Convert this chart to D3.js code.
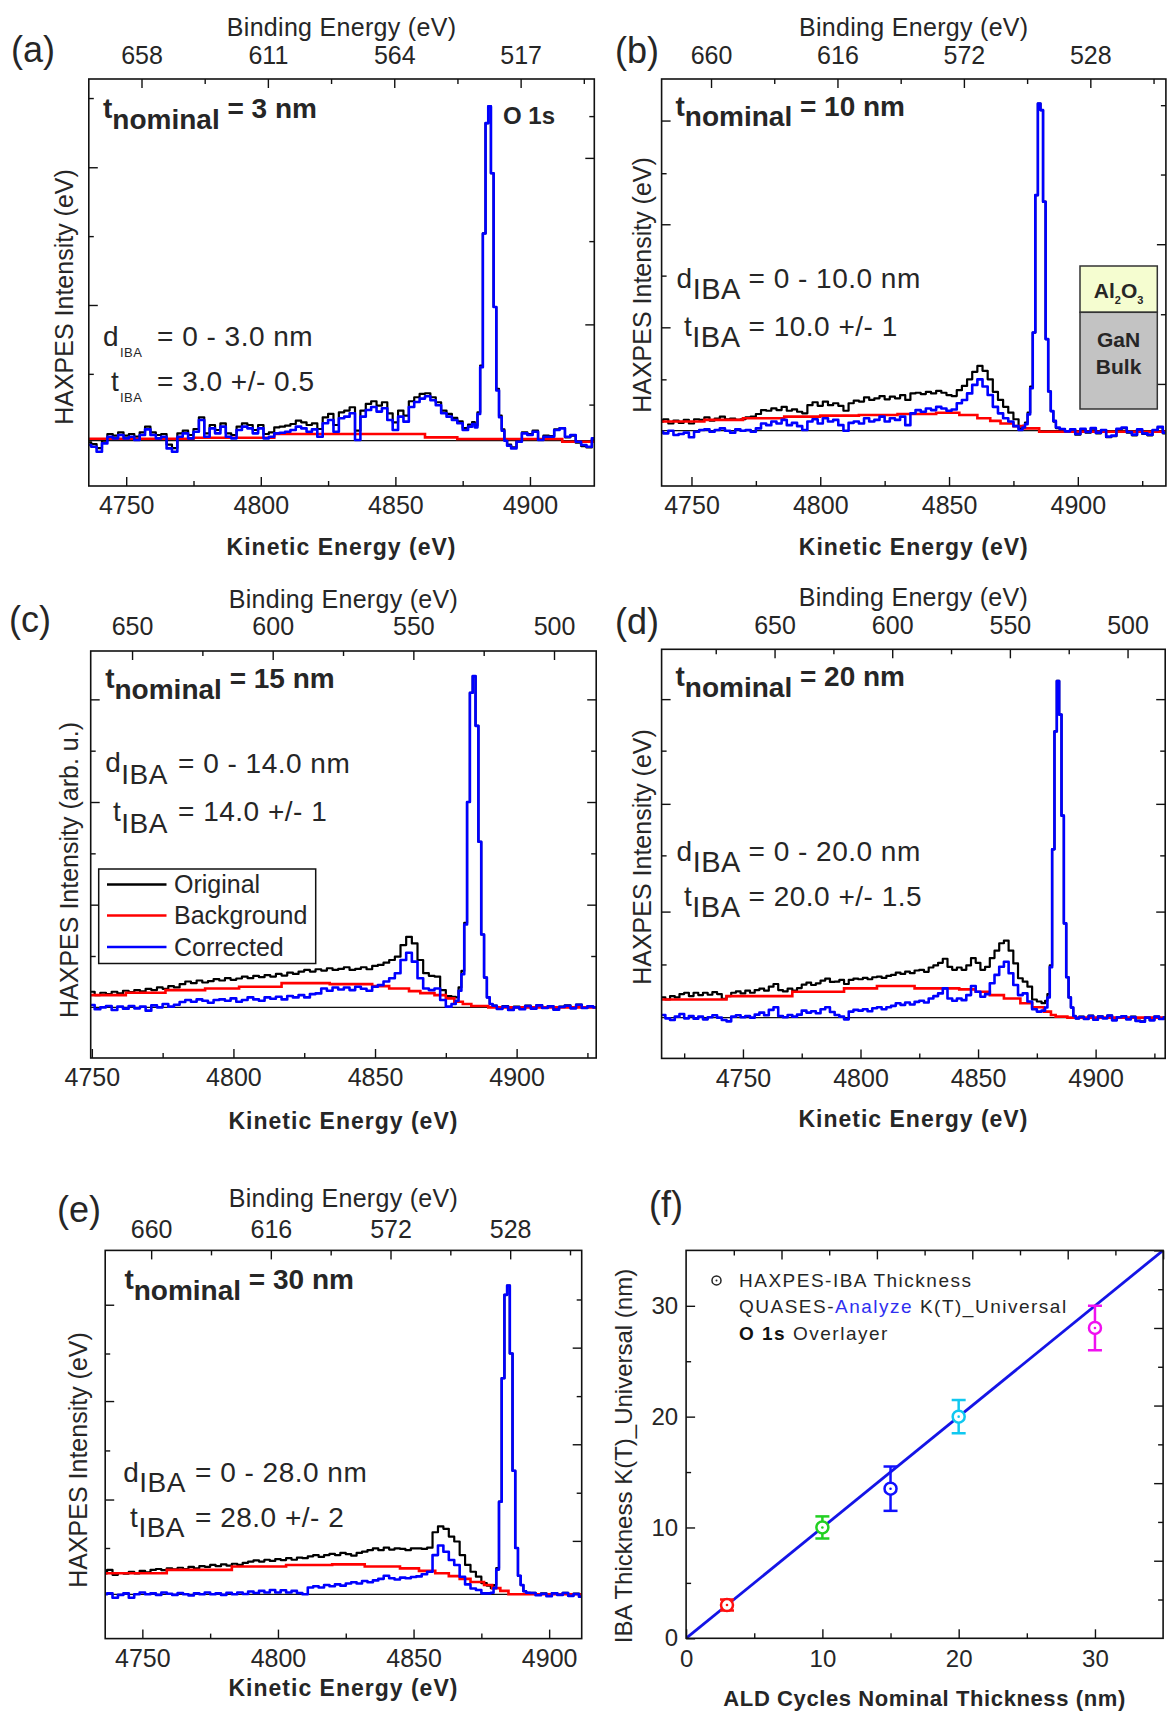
<!DOCTYPE html>
<html><head><meta charset="utf-8">
<script src="https://cdn.jsdelivr.net/npm/d3@7"></script>
<style>
body{margin:0;background:#fff;}
svg text{font-family:"Liberation Sans", Arial, sans-serif; fill:#262626;}
</style></head><body>
<svg id="c" width="1167" height="1711"></svg>
<script>
// ---------- shared kinetic-energy grid (eV) ----------
const KE_LOW = [4714,4716,4718,4720,4722,4724,4726,4728,4730,4732,
4734,4736,4738,4740,4742,4744,4746,4748,4750,4752,
4754,4756,4758,4760,4762,4764,4766,4768,4770,4772,
4774,4776,4778,4780,4782,4784,4786,4788,4790,4792,
4794,4796,4798,4800,4802,4804,4806,4808,4810,4812,
4814,4816,4818,4820,4822,4824,4826,4828,4830,4832,
4834,4836,4838,4840,4842,4844,4846,4848,4850,4852,
4854,4856,4858,4860,4862,4864,4866,4868,4870,4872,
4874,4876,4878];
const KE_PEAK = [4879,4880,4881,4882,4883,4884,4885,4886,4887,4888,4889,4890,4891,4892];
const KE_HIGH = [4894,4896,4898,4900,4902,4904,4906,4908,4910,4912,4914,4916,4918,4920,4922,4924,4926,4928,4930,4932,4934];

const keMajor = [4750, 4800, 4850, 4900];
const keMinor = [4725, 4775, 4825, 4875, 4925];

// ---------- panel (a) t = 3 nm ----------
const corrA_low = [-0.013,-0.018,-0.033,-0.008,0.012,0.007,0.017,0.007,0.012,0.002,
0.017,0.034,0.017,0.007,0.012,-0.023,-0.033,0.012,0.022,0.007,
0.027,0.062,0.012,0.037,0.022,0.042,0.012,0.007,0.032,0.042,
0.037,0.022,0.037,0.007,0.012,0.022,0.024,0.027,0.032,0.042,
0.037,0.027,0.034,0.012,0.052,0.062,0.027,0.067,0.072,0.082,
0.002,0.072,0.092,0.101,0.087,0.097,0.062,0.032,0.072,0.057,
0.101,0.116,0.126,0.133,0.121,0.106,0.082,0.072,0.062,0.052,
0.032,0.042];
const origA_low = [-0.005,-0.01,-0.022,0.0,0.02,0.015,0.025,0.015,0.02,0.012,
0.025,0.042,0.025,0.017,0.02,-0.012,-0.022,0.022,0.03,0.017,
0.035,0.07,0.022,0.047,0.032,0.052,0.022,0.017,0.042,0.052,
0.047,0.032,0.047,0.02,0.025,0.04,0.042,0.045,0.05,0.06,
0.055,0.047,0.052,0.035,0.07,0.08,0.047,0.085,0.09,0.1,
0.03,0.09,0.11,0.118,0.105,0.115,0.082,0.055,0.09,0.075,
0.118,0.13,0.14,0.142,0.13,0.115,0.09,0.08,0.068,0.058,
0.038,0.048];
const corrA_peak = [0.05,0.04,0.08,0.22,0.62,0.95,1.0,0.80,0.40,0.15,0.07,0.03,0.0,-0.015];
const origA_peak = [0.056,0.046,0.085,0.225,0.62,0.95,1.0,0.80,0.40,0.155,0.075,0.034,0.004,-0.012];
const corrA_high = [-0.023,-0.003,0.022,0.017,0.027,0.002,0.012,0.012,0.032,0.037,0.012,0.017,-0.003,-0.013,-0.018,0.007];
const origA_high = [-0.02,0.0,0.025,0.02,0.03,0.005,0.015,0.014,0.034,0.038,0.01,0.015,-0.006,-0.016,-0.02,0.004];
const bgA_ke = [4736, 4775, 4805, 4861, 4873, 4912, 4924];
const bgA    = [0.006, 0.009, 0.02, 0.01, 0.005, -0.003, -0.003];

// ---------- panel (b) t = 10 nm ----------
const corrB_low = [-0.003,-0.008,0,-0.013,-0.010,-0.006,-0.020,-0.003,0.002,0.004,
-0.003,0.002,0.007,0,-0.006,0.004,0,0.002,-0.003,0.007,
0.022,0.017,0.028,0.022,0.033,0.017,0.024,0.014,0.002,0.028,
0.035,0.022,0.038,0.028,0.033,0.017,0,0.024,0.028,0.022,
0.038,0.028,0.033,0.043,0.028,0.038,0.033,0.043,0.017,0.053,
0.063,0.058,0.068,0.063,0.073,0.068,0.061,0.065,0.084,0.094,
0.114,0.140,0.157,0.135,0.109,0.073,0.053,0.038,0.028,0.014,
0.002];
const origB_low = [0.028,0.035,0.022,0.031,0.024,0.033,0.022,0.035,0.033,0.041,
0.031,0.037,0.043,0.035,0.037,0.033,0.035,0.041,0.043,0.051,
0.063,0.061,0.068,0.063,0.073,0.061,0.065,0.058,0.053,0.078,
0.087,0.076,0.089,0.078,0.084,0.076,0.061,0.084,0.092,0.089,
0.102,0.094,0.099,0.106,0.096,0.104,0.099,0.109,0.094,0.114,
0.116,0.112,0.119,0.114,0.122,0.116,0.109,0.106,0.124,0.137,
0.157,0.180,0.198,0.183,0.157,0.119,0.094,0.073,0.055,0.035,
0.007];
const corrB_peak = [0.01,0.02,0.05,0.13,0.30,0.72,1.0,0.98,0.70,0.28,0.12,0.06,0.03,0.01];
const origB_peak = [0.015,0.025,0.055,0.135,0.30,0.72,1.0,0.98,0.70,0.28,0.12,0.06,0.028,0.008];
const corrB_high = [0.005,-0.002,0.004,-0.01,0.006,-0.004,0.008,-0.006,0.002,-0.018,-0.015,0.006,0.01,-0.004,-0.012,0.004,-0.008,-0.012,0.002,0.012,-0.006];
const origB_high = [0.003,-0.004,0.002,-0.012,0.004,-0.006,0.006,-0.008,0.0,-0.02,-0.017,0.004,0.008,-0.006,-0.014,0.002,-0.01,-0.014,0.0,0.01,-0.008];
const bgB_ke = [4738, 4755, 4770, 4786, 4800, 4815, 4830, 4845, 4854, 4861, 4866, 4870, 4875, 4879, 4885, 4934];
const bgB    = [0.028, 0.033, 0.038, 0.043, 0.046, 0.048, 0.051, 0.055, 0.048, 0.038, 0.03, 0.022, 0.014, 0.007, -0.003, -0.005];

// ---------- panel (c) t = 15 nm ----------
const corrC_low = [0.002,0.007,-0.006,0,0.004,-0.008,0.002,-0.004,0.004,-0.003,
0.002,-0.010,0.006,0,0.010,0.002,0.008,0.016,0.022,0.017,
0.024,0.020,0.014,0.022,0.024,0.020,0.027,0.017,0.022,0.030,
0.024,0.020,0.030,0.026,0.032,0.024,0.034,0.030,0.037,0.030,
0.040,0.042,0.057,0.050,0.060,0.054,0.060,0.052,0.062,0.056,
0.050,0.062,0.067,0.078,0.088,0.103,0.143,0.165,0.138,0.088,
0.057,0.052,0.057,0.022,0.002,0.010];
const origC_low = [0.042,0.047,0.037,0.044,0.040,0.047,0.042,0.050,0.046,0.052,
0.048,0.056,0.052,0.060,0.056,0.064,0.060,0.070,0.078,0.073,
0.081,0.075,0.079,0.085,0.081,0.088,0.083,0.087,0.093,0.088,
0.095,0.091,0.097,0.093,0.101,0.096,0.105,0.101,0.108,0.113,
0.108,0.115,0.111,0.118,0.113,0.116,0.121,0.113,0.116,0.121,
0.115,0.125,0.128,0.135,0.143,0.153,0.188,0.213,0.193,0.143,
0.103,0.095,0.093,0.052,0.034,0.032];
const corrC_peak = [0.02,0.05,0.10,0.25,0.62,0.95,1.0,0.85,0.50,0.22,0.09,0.03,0.01,0.005];
const origC_peak = [0.03,0.06,0.11,0.255,0.62,0.95,1.0,0.85,0.50,0.22,0.09,0.03,0.01,0.005];
const corrC_high = [-0.005,0.002,-0.008,0.0,-0.006,0.004,-0.004,0.006,-0.002,0.003,-0.007,0.001,0.005,-0.003,0.008,-0.002,0.003,0.0];
const origC_high = [-0.003,0.004,-0.006,0.002,-0.004,0.005,-0.002,0.007,0.0,0.004,-0.005,0.002,0.006,-0.002,0.008,-0.001,0.003,0.001];
const bgC_ke = [4748, 4762, 4776, 4790, 4802, 4817, 4834, 4849, 4855, 4862, 4866, 4871, 4875, 4878, 4881, 4884, 4890, 4928];
const bgC    = [0.037, 0.044, 0.052, 0.057, 0.062, 0.073, 0.07, 0.064, 0.057, 0.049, 0.043, 0.037, 0.027, 0.017, 0.01, 0.004, 0.0, 0.0];

// ---------- panel (d) t = 20 nm ----------
const corrD_low = [0.005,0.008,-0.002,-0.007,0.003,0.011,-0.002,0.005,-0.003,0.003,
-0.005,0.001,0.007,0,-0.007,-0.011,0.003,0.007,0.001,0.005,
0,0.009,0.015,0.007,0.023,0.031,0.005,0.001,0.008,0.003,
0.009,0.021,0.015,0.019,0.013,0.025,0.031,0.017,0.008,0.003,
-0.005,0.018,0.023,0.021,0.025,0.019,0.028,0.031,0.025,0.031,
0.035,0.043,0.038,0.045,0.039,0.047,0.050,0.045,0.057,0.064,
0.072,0.087,0.057,0.050,0.057,0.052,0.067,0.094,0.077,0.062,
0.070,0.102,0.127,0.151,0.166,0.132,0.097,0.067,0.072,0.048,
0.025,0.018,0.021];
const origD_low = [0.067,0.060,0.054,0.064,0.060,0.070,0.074,0.064,0.074,0.067,
0.074,0.068,0.076,0.070,0.056,0.064,0.074,0.078,0.072,0.080,
0.074,0.082,0.086,0.080,0.092,0.100,0.082,0.078,0.086,0.080,
0.088,0.098,0.104,0.097,0.102,0.110,0.116,0.106,0.107,0.112,
0.100,0.112,0.116,0.114,0.118,0.114,0.120,0.122,0.118,0.124,
0.127,0.134,0.130,0.137,0.132,0.140,0.142,0.136,0.149,0.155,
0.163,0.175,0.151,0.142,0.149,0.142,0.155,0.177,0.163,0.142,
0.151,0.177,0.199,0.221,0.229,0.199,0.161,0.117,0.107,0.092,
0.054,0.048,0.043];
const corrD_peak = [0.03,0.06,0.15,0.50,0.85,1.0,0.90,0.60,0.28,0.12,0.06,0.03,0.005,-0.002];
const origD_peak = [0.05,0.07,0.155,0.50,0.85,1.0,0.90,0.60,0.28,0.12,0.06,0.03,0.005,-0.002];
const corrD_high = [0.002,-0.004,0.005,-0.006,0.003,-0.002,0.006,-0.008,0.001,0.004,-0.005,0.002,-0.01,-0.012,0.0,-0.008,0.003,-0.004,0.001];
const origD_high = [0.003,-0.003,0.006,-0.005,0.004,-0.001,0.006,-0.007,0.002,0.005,-0.004,0.003,-0.009,-0.011,0.001,-0.007,0.003,-0.003,0.002];
const bgD_ke = [4714, 4743, 4771, 4793, 4807, 4823, 4842, 4849, 4855, 4861, 4868, 4873, 4878, 4881, 4883, 4888, 4930];
const bgD    = [0.054, 0.064, 0.077, 0.087, 0.094, 0.087, 0.084, 0.077, 0.067, 0.057, 0.043, 0.031, 0.018, 0.008, 0.003, 0.0, 0.0];

// ---------- panel (e) t = 30 nm ----------
const corrE_low = [0,0.003,-0.011,-0.002,0.003,-0.011,0,0.006,0,0.003,
-0.002,0.006,0.002,-0.002,0.004,0,-0.004,0.003,0,0.006,
0,0.003,-0.002,0.005,0,0.006,0.001,0.009,0.004,0.011,
0.006,0.014,0.006,0.013,0.006,0.011,0.004,0,0.022,0.026,
0.022,0.030,0.026,0.032,0.028,0.035,0.039,0.035,0.043,0.039,
0.045,0.050,0.060,0.052,0.048,0.054,0.052,0.056,0.058,0.065,
0.073,0.127,0.158,0.138,0.111,0.095,0.057,0.032,0.019,0.014,
0.003,0.003];
const origE_low = [0.068,0.079,0.063,0.069,0.067,0.073,0.068,0.076,0.071,0.079,
0.082,0.078,0.084,0.081,0.086,0.082,0.089,0.084,0.091,0.089,
0.095,0.091,0.097,0.093,0.099,0.095,0.102,0.106,0.110,0.106,
0.112,0.108,0.114,0.111,0.117,0.112,0.119,0.117,0.123,0.127,
0.121,0.127,0.131,0.127,0.134,0.130,0.125,0.134,0.138,0.143,
0.149,0.143,0.151,0.145,0.149,0.147,0.143,0.149,0.149,0.147,
0.151,0.201,0.220,0.212,0.187,0.171,0.127,0.095,0.073,0.057,
0.036,0.028];
const corrE_peak = [0.005,0.02,0.08,0.30,0.70,0.97,1.0,0.78,0.40,0.15,0.06,0.03,0.01,0.005];
const origE_peak = [0.02,0.03,0.085,0.30,0.70,0.97,1.0,0.78,0.40,0.15,0.06,0.03,0.01,0.005];
const corrE_high = [0.004,-0.003,0.002,-0.006,0.003,-0.002,0.004,-0.005,0.001,-0.008];
const origE_high = [0.005,-0.002,0.003,-0.005,0.004,-0.001,0.005,-0.004,0.002,-0.007];
const bgE_ke = [4736, 4759, 4783, 4803, 4820, 4832, 4845, 4852, 4858, 4863, 4867, 4871, 4876, 4879, 4882, 4885, 4912];
const bgE    = [0.068, 0.079, 0.090, 0.095, 0.097, 0.090, 0.084, 0.076, 0.068, 0.059, 0.050, 0.040, 0.030, 0.02, 0.011, 0.0, 0.0];

// ---------- binding energy tick labels ----------
const beTicksA = [658, 611, 564, 517], beMinorA = [634.5, 587.5, 540.5, 493.5];
const beTicksB = [660, 616, 572, 528], beMinorB = [638, 594, 550, 506];
const beTicksC = [650, 600, 550, 500], beMinorC = [625, 575, 525];
const beTicksD = [650, 600, 550, 500], beMinorD = [675, 625, 575, 525];
const beTicksE = [660, 616, 572, 528], beMinorE = [638, 594, 550, 506];

// ---------- panel (f) ----------
const nominalT = [3, 10, 15, 20, 30];
const ibaT     = [3, 10, 13.5, 20, 28];
const ibaErr   = [0.5, 1, 2, 1.5, 2];
const ptColors = ['#ff1010', '#22d022', '#1010ff', '#10c8f0', '#f010f0'];
const fitX = [0, 35], fitY = [0, 35];
const fMajor = [0, 10, 20, 30], fMinor = [5, 15, 25];
const fSideMajor = [7, 14, 21, 28, 35], fSideMinor = [3.5, 10.5, 17.5, 24.5, 31.5];

// ---------- helpers ----------
const svg = d3.select('#c');
function assemble(low, peak, high){
  const pts = [];
  const off = KE_LOW.length - low.length;
  low.forEach((v,i)=>pts.push([KE_LOW[off+i], v]));
  peak.forEach((v,i)=>pts.push([KE_PEAK[i], v]));
  high.forEach((v,i)=>pts.push([KE_HIGH[i], v]));
  return pts;
}
function zip(xs, ys){ return xs.map((x,i)=>[x, ys[i]]); }
function styleAxis(g, fs){
  g.select('.domain').remove();
  g.selectAll('.tick line').attr('stroke','#111').attr('stroke-width',1.4);
  g.selectAll('.tick text').style('font-size', fs+'px').attr('fill','#262626')
    .style('font-family','"Liberation Sans", Arial, sans-serif');
}
function addAnn(a){
  const t = svg.append('text').attr('x',a.x).attr('y',a.y)
    .style('font-size',(a.size||28)+'px').style('font-weight',a.bold?'bold':'normal')
    .style('letter-spacing', a.bold ? '0px' : '0.5px')
    .attr('fill', a.bold ? '#111' : '#333');
  a.parts.forEach(p=>{
    const s = t.append('tspan').text(p.t);
    if(p.x!=null) s.attr('x',p.x);
    if(p.dy) s.attr('dy',p.dy);
    if(p.size) s.style('font-size',p.size+'px');
  });
}

const panels = [
 {lab:'(a)', labX:11, labY:62, L:88.8, T:79, R:594.3, B:486, ke:[4736.1,4923.9], be:[677.6,489.6], y:[-0.1355,1.082],
  beMaj:beTicksA, beMin:beMinorA, topPad:14.6, kinDy:69, ylab:'HAXPES Intensity (eV)', ylabX:64, ylabY:297,
  lMaj:[0.406,0.818], lMin:[0.2,0.612,1.025], rMaj:[0.348,0.846], rMin:[0.108,0.597,0.971],
  orig:assemble(origA_low,origA_peak,origA_high), corr:assemble(corrA_low,corrA_peak,corrA_high), bg:zip(bgA_ke,bgA),
  ann:[
   {x:103,y:118,bold:true,parts:[{t:'t'},{t:'nominal',dy:11},{t:'\u00a0= 3 nm',dy:-11}]},
   {x:503,y:124,size:24,bold:true,parts:[{t:'O 1s'}]},
   {x:103,y:346,parts:[{t:'d'},{t:'IBA',dy:11,size:13,x:120},{t:'= 0 - 3.0 nm',dy:-11,x:157}]},
   {x:111,y:391,parts:[{t:'t'},{t:'IBA',dy:11,size:13,x:120},{t:'= 3.0 +/- 0.5',dy:-11,x:157}]}]},
 {lab:'(b)', labX:615, labY:63, L:661.6, T:79, R:1165.9, B:486, ke:[4738.4,4934.2], be:[677.2,501.7], y:[-0.169,1.075],
  beMaj:beTicksB, beMin:beMinorB, topPad:14.6, kinDy:69, ylab:'HAXPES Intensity (eV)', ylabX:642, ylabY:285,
  lMaj:[0.316,0.631,0.948], lMin:[0.157,0.474,0.787], rMaj:[0.143,0.57], rMin:[0.356,0.783,0.995],
  orig:assemble(origB_low,origB_peak,origB_high), corr:assemble(corrB_low,corrB_peak,corrB_high), bg:zip(bgB_ke,bgB),
  ann:[
   {x:675.5,y:116,bold:true,parts:[{t:'t'},{t:'nominal',dy:10},{t:'\u00a0= 10 nm',dy:-10}]},
   {x:676.6,y:287.5,parts:[{t:'d'},{t:'IBA',dy:11,size:29},{t:'= 0 - 10.0 nm',dy:-11,x:748.5}]},
   {x:684,y:335.7,parts:[{t:'t'},{t:'IBA',dy:11,size:29},{t:'= 10.0 +/- 1',dy:-11,x:748.5}]}]},
 {lab:'(c)', labX:9, labY:632, L:90.7, T:651, R:596.2, B:1058, ke:[4749.6,4928.1], be:[664.7,485.0], y:[-0.153,1.076],
  beMaj:beTicksC, beMin:beMinorC, topPad:15.6, kinDy:71, ylab:'HAXPES Intensity (arb. u.)', ylabX:69, ylabY:870,
  lMaj:[0.31,0.62,0.93], lMin:[0.155,0.465,0.775], rMaj:[0.31,0.62,0.93], rMin:[0.155,0.465,0.775],
  orig:assemble(origC_low,origC_peak,origC_high), corr:assemble(corrC_low,corrC_peak,corrC_high), bg:zip(bgC_ke,bgC),
  ann:[
   {x:105.2,y:688.2,bold:true,parts:[{t:'t'},{t:'nominal',dy:11},{t:'\u00a0= 15 nm',dy:-11}]},
   {x:105.2,y:772,parts:[{t:'d'},{t:'IBA',dy:12,size:28},{t:'= 0 - 14.0 nm',dy:-11,x:178}]},
   {x:112.9,y:821,parts:[{t:'t'},{t:'IBA',dy:11.5,size:28},{t:'= 14.0 +/- 1',dy:-11.5,x:178}]}]},
 {lab:'(d)', labX:615, labY:634, L:661.6, T:649.3, R:1165.2, B:1058.4, ke:[4715.4,4929.6], be:[698.0,484.0], y:[-0.121,1.094],
  beMaj:beTicksD, beMin:beMinorD, topPad:15.6, kinDy:69, ylab:'HAXPES Intensity (eV)', ylabX:642, ylabY:857,
  lMaj:[0.315,0.635,0.946], lMin:[0.158,0.482,0.793], rMaj:[0.315,0.635,0.946], rMin:[0.158,0.482,0.793],
  orig:assemble(origD_low,origD_peak,origD_high), corr:assemble(corrD_low,corrD_peak,corrD_high), bg:zip(bgD_ke,bgD),
  ann:[
   {x:675.5,y:686.4,bold:true,parts:[{t:'t'},{t:'nominal',dy:11},{t:'\u00a0= 20 nm',dy:-11}]},
   {x:676.6,y:861,parts:[{t:'d'},{t:'IBA',dy:11,size:29},{t:'= 0 - 20.0 nm',dy:-11,x:748.5}]},
   {x:684,y:906.4,parts:[{t:'t'},{t:'IBA',dy:11,size:29},{t:'= 20.0 +/- 1.5',dy:-11,x:748.5}]}]},
 {lab:'(e)', labX:57, labY:1222, L:105.2, T:1250.4, R:581.7, B:1638.6, ke:[4736.3,4912.0], be:[676.9,501.7], y:[-0.1435,1.114],
  beMaj:beTicksE, beMin:beMinorE, topPad:12.7, kinDy:57, ylab:'HAXPES Intensity (eV)', ylabX:78.5, ylabY:1460,
  lMaj:[0.307,0.626,0.938], lMin:[0.15,0.466,0.78], rMaj:[0.173,0.486,0.799], rMin:[0.329,0.642,0.955],
  orig:assemble(origE_low,origE_peak,origE_high), corr:assemble(corrE_low,corrE_peak,corrE_high), bg:zip(bgE_ke,bgE),
  ann:[
   {x:124.4,y:1289,bold:true,parts:[{t:'t'},{t:'nominal',dy:11},{t:'\u00a0= 30 nm',dy:-11}]},
   {x:123.2,y:1482.3,parts:[{t:'d'},{t:'IBA',dy:10,size:28},{t:'= 0 - 28.0 nm',dy:-10,x:195}]},
   {x:130.1,y:1527.1,parts:[{t:'t'},{t:'IBA',dy:10,size:28},{t:'= 28.0 +/- 2',dy:-10,x:195}]}]}
];

panels.forEach((p, idx)=>{
  const x = d3.scaleLinear(p.ke, [p.L, p.R]);
  const xb = d3.scaleLinear(p.be, [p.L, p.R]);
  const y = d3.scaleLinear(p.y, [p.B, p.T]);
  const inD = (s, v)=>{ const d=s.domain(); return v>=Math.min(d[0],d[1]) && v<=Math.max(d[0],d[1]); };
  const W = p.R - p.L, H = p.B - p.T;

  const cid = 'clip'+idx;
  svg.append('clipPath').attr('id',cid).append('rect').attr('x',p.L).attr('y',p.T).attr('width',W).attr('height',H);
  const plot = svg.append('g').attr('clip-path',`url(#${cid})`);
  plot.append('line').attr('x1',p.L).attr('x2',p.R).attr('y1',y(0)).attr('y2',y(0)).attr('stroke','#111').attr('stroke-width',1.2);
  const line = d3.line().x(d=>x(d[0])).y(d=>y(d[1])).curve(d3.curveStep);
  const bgLine = d3.line().x(d=>x(d[0])).y(d=>y(d[1])).curve(d3.curveStepAfter);
  plot.append('path').attr('d', line(p.orig)).attr('fill','none').attr('stroke','#000').attr('stroke-width',2.2).attr('stroke-linejoin','round');
  plot.append('path').attr('d', bgLine(p.bg)).attr('fill','none').attr('stroke','#ff0000').attr('stroke-width',2.6);
  plot.append('path').attr('d', line(p.corr)).attr('fill','none').attr('stroke','#0000ff').attr('stroke-width',2.6).attr('stroke-linejoin','round');

  const gb = svg.append('g').attr('transform',`translate(0,${p.B})`)
    .call(d3.axisBottom(x).tickValues(keMajor.filter(v=>inD(x,v))).tickFormat(d3.format('d')).tickSize(-9).tickPadding(10.6));
  styleAxis(gb, 25);
  const gbm = svg.append('g').attr('transform',`translate(0,${p.B})`)
    .call(d3.axisBottom(x).tickValues(keMinor.filter(v=>inD(x,v))).tickFormat('').tickSize(-5));
  styleAxis(gbm, 25);
  const gt = svg.append('g').attr('transform',`translate(0,${p.T})`)
    .call(d3.axisTop(xb).tickValues(p.beMaj).tickFormat(d3.format('d')).tickSize(-9).tickPadding(p.topPad));
  styleAxis(gt, 25);
  const gtm = svg.append('g').attr('transform',`translate(0,${p.T})`)
    .call(d3.axisTop(xb).tickValues(p.beMin.filter(v=>inD(xb,v))).tickFormat('').tickSize(-5));
  styleAxis(gtm, 25);
  [[d3.axisLeft, p.L, p.lMaj, -9],[d3.axisLeft, p.L, p.lMin, -5],[d3.axisRight, p.R, p.rMaj, -9],[d3.axisRight, p.R, p.rMin, -5]].forEach(a=>{
    const g = svg.append('g').attr('transform',`translate(${a[1]},0)`)
      .call(a[0](y).tickValues(a[2]).tickFormat('').tickSize(a[3]));
    styleAxis(g, 25);
  });
  svg.append('rect').attr('x',p.L).attr('y',p.T).attr('width',W).attr('height',H)
    .attr('fill','none').attr('stroke','#111').attr('stroke-width',1.6);

  const cx = (p.L + p.R)/2;
  svg.append('text').attr('x',cx).attr('y',p.T-43).attr('text-anchor','middle')
    .style('font-size','25px').style('letter-spacing','0.3px').text('Binding Energy (eV)');
  svg.append('text').attr('x',cx).attr('y',p.B+p.kinDy).attr('text-anchor','middle')
    .style('font-size','23px').style('font-weight','bold').style('letter-spacing','1px').attr('fill','#111').text('Kinetic Energy (eV)');
  svg.append('text').attr('transform',`translate(${p.ylabX},${p.ylabY}) rotate(-90)`).attr('text-anchor','middle')
    .attr('dy','0.35em').style('font-size','25px').text(p.ylab);
  svg.append('text').attr('x',p.labX).attr('y',p.labY).style('font-size','36px').attr('fill','#111').text(p.lab);
  p.ann.forEach(addAnn);
});

// ---------- legend in (c) ----------
const legNames = ['Original','Background','Corrected'];
const legColors = ['#000','#ff0000','#0000ff'];
const legY = [884.5, 915.5, 947];
svg.append('rect').attr('x',98.7).attr('y',869).attr('width',217).attr('height',94.5)
  .attr('fill','#fff').attr('stroke','#111').attr('stroke-width',1.5);
legNames.forEach((n,i)=>{
  svg.append('line').attr('x1',107).attr('x2',166.5).attr('y1',legY[i]).attr('y2',legY[i])
    .attr('stroke',legColors[i]).attr('stroke-width',2.6);
  svg.append('text').attr('x',174).attr('y',legY[i]).attr('dy','0.35em').style('font-size','25px').text(n);
});

// ---------- inset in (b) ----------
svg.append('rect').attr('x',1080).attr('y',266).attr('width',77.3).attr('height',46.3)
  .attr('fill','#f5fdd0').attr('stroke','#333').attr('stroke-width',1.5);
svg.append('rect').attr('x',1080).attr('y',312.3).attr('width',77.3).attr('height',96.7)
  .attr('fill','#c3c3c3').attr('stroke','#333').attr('stroke-width',1.5);
(function(){
  const t = svg.append('text').attr('x',1118.6).attr('y',298).attr('text-anchor','middle')
    .style('font-size','21px').style('font-weight','bold').attr('fill','#1a1a1a');
  t.append('tspan').text('Al');
  t.append('tspan').text('2').style('font-size','11px').attr('dy',6);
  t.append('tspan').text('O').attr('dy',-6);
  t.append('tspan').text('3').style('font-size','11px').attr('dy',6);
  svg.append('text').attr('x',1118.6).attr('y',347).attr('text-anchor','middle')
    .style('font-size','21px').style('font-weight','bold').attr('fill','#1a1a1a').text('GaN');
  svg.append('text').attr('x',1118.6).attr('y',374).attr('text-anchor','middle')
    .style('font-size','21px').style('font-weight','bold').attr('fill','#1a1a1a').text('Bulk');
})();

// ---------- panel (f) ----------
(function(){
  const L=686.1, R=1163.1, T=1250.4, B=1638.3;
  const fx = d3.scaleLinear([0,35],[L,R]);
  const fy = d3.scaleLinear([0,35],[B,T]);
  const clip = svg.append('clipPath').attr('id','clipf');
  clip.append('rect').attr('x',L).attr('y',T).attr('width',R-L).attr('height',B-T);
  const g = svg.append('g').attr('clip-path','url(#clipf)');
  g.append('path').attr('d', d3.line().x(d=>fx(d[0])).y(d=>fy(d[1]))(zip(fitX, fitY)))
    .attr('stroke','#1414e6').attr('stroke-width',2.8).attr('fill','none');
  nominalT.forEach((n,i)=>{
    const c = ptColors[i], X = fx(n);
    const y1 = fy(ibaT[i]-ibaErr[i]), y2 = fy(ibaT[i]+ibaErr[i]);
    g.append('line').attr('x1',X).attr('x2',X).attr('y1',y1).attr('y2',y2).attr('stroke',c).attr('stroke-width',2.5);
    [y1,y2].forEach(yy=>g.append('line').attr('x1',X-7).attr('x2',X+7).attr('y1',yy).attr('y2',yy).attr('stroke',c).attr('stroke-width',2.5));
    g.append('circle').attr('cx',X).attr('cy',fy(ibaT[i])).attr('r',6).attr('fill','#fff').attr('stroke',c).attr('stroke-width',2.5);
    g.append('circle').attr('cx',X).attr('cy',fy(ibaT[i])).attr('r',1.3).attr('fill',c);
  });
  const gb = svg.append('g').attr('transform',`translate(0,${B})`)
    .call(d3.axisBottom(fx).tickValues(fMajor).tickFormat(d3.format('d')).tickSize(-9).tickPadding(11.5));
  styleAxis(gb, 24);
  const gbm = svg.append('g').attr('transform',`translate(0,${B})`).call(d3.axisBottom(fx).tickValues(fMinor).tickFormat('').tickSize(-5));
  styleAxis(gbm, 24);
  const gl = svg.append('g').attr('transform',`translate(${L},0)`)
    .call(d3.axisLeft(fy).tickValues(fMajor).tickFormat(d3.format('d')).tickSize(-9).tickPadding(8));
  styleAxis(gl, 24);
  const glm = svg.append('g').attr('transform',`translate(${L},0)`).call(d3.axisLeft(fy).tickValues(fMinor).tickFormat('').tickSize(-5));
  styleAxis(glm, 24);
  [[d3.axisTop, 'translate(0,'+T+')', fx, fSideMajor, -9],[d3.axisTop, 'translate(0,'+T+')', fx, fSideMinor, -5],
   [d3.axisRight, 'translate('+R+',0)', fy, fSideMajor, -9],[d3.axisRight, 'translate('+R+',0)', fy, fSideMinor, -5]].forEach(a=>{
    const gg = svg.append('g').attr('transform',a[1]).call(a[0](a[2]).tickValues(a[3]).tickFormat('').tickSize(a[4]));
    styleAxis(gg, 24);
  });
  svg.append('rect').attr('x',L).attr('y',T).attr('width',R-L).attr('height',B-T)
    .attr('fill','none').attr('stroke','#111').attr('stroke-width',1.6);
  svg.append('text').attr('x',(L+R)/2).attr('y',1706).attr('text-anchor','middle')
    .style('font-size','22px').style('font-weight','bold').style('letter-spacing','0.6px').attr('fill','#111')
    .text('ALD Cycles Nominal Thickness (nm)');
  svg.append('text').attr('transform','translate(623.5,1456) rotate(-90)').attr('text-anchor','middle')
    .attr('dy','0.35em').style('font-size','24px').text('IBA Thickness K(T)_Universal (nm)');
  svg.append('text').attr('x',649).attr('y',1217).style('font-size','36px').attr('fill','#111').text('(f)');
  svg.append('circle').attr('cx',716.5).attr('cy',1280.4).attr('r',4.5).attr('fill','none').attr('stroke','#222').attr('stroke-width',1.5);
  svg.append('circle').attr('cx',716.5).attr('cy',1280.4).attr('r',1).attr('fill','#222');
  const lt = (y)=>svg.append('text').attr('x',739).attr('y',y).style('font-size','19px').style('letter-spacing','1.5px').attr('fill','#333');
  lt(1287).text('HAXPES-IBA Thickness');
  const l2 = lt(1313);
  l2.append('tspan').text('QUASES-');
  l2.append('tspan').text('Analyze').attr('fill','#2f2ff0');
  l2.append('tspan').text(' K(T)_Universal');
  const l3 = lt(1340);
  l3.append('tspan').text('O 1s').style('font-weight','bold').attr('fill','#111');
  l3.append('tspan').text(' Overlayer');
})();
</script></body></html>
